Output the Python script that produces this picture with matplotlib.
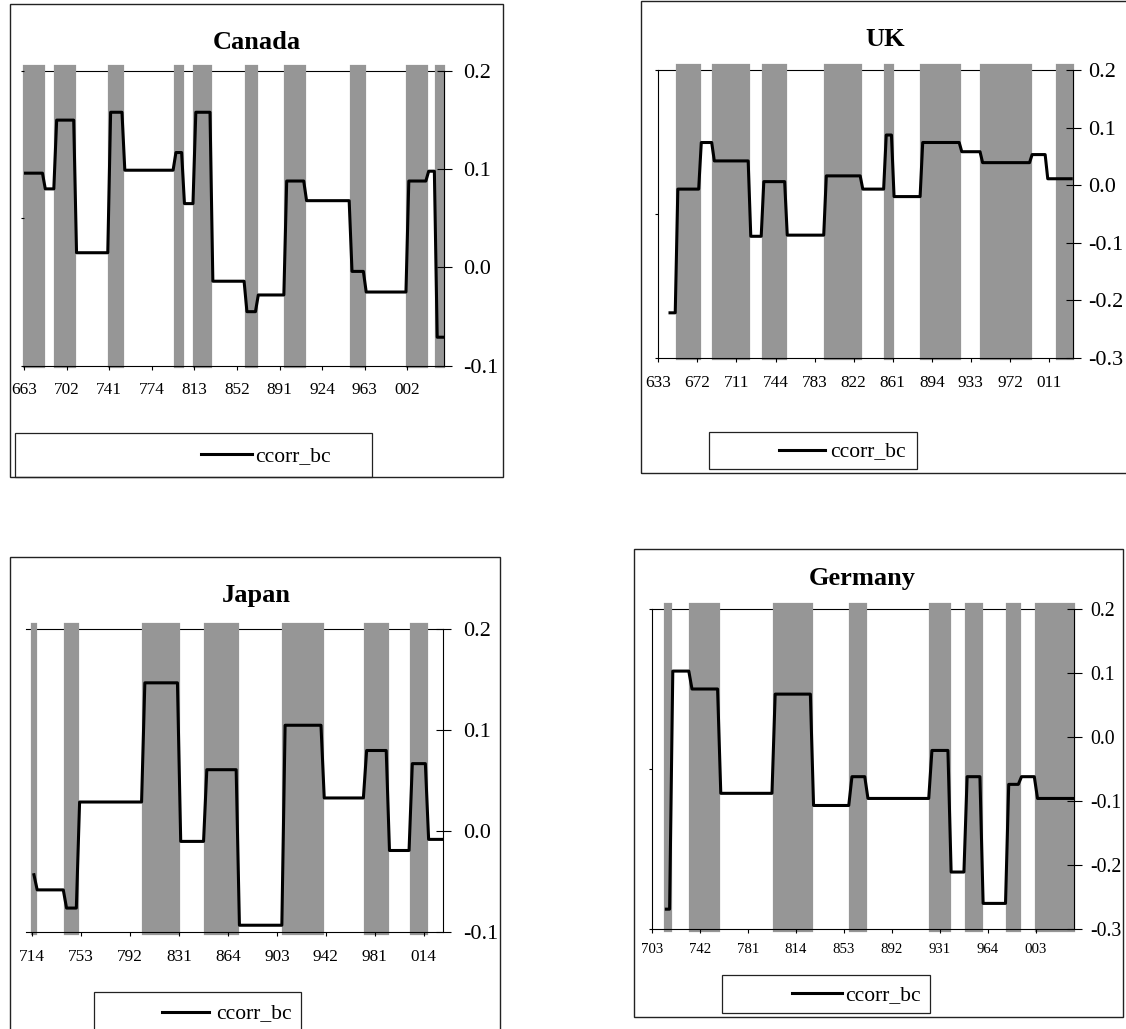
import numpy as np
import matplotlib
matplotlib.use("Agg")
import matplotlib.pyplot as plt
from matplotlib.patches import Rectangle
from matplotlib.lines import Line2D
from matplotlib.ticker import MultipleLocator, FormatStrFormatter

plt.rcParams["font.family"] = ["Liberation Serif", "DejaVu Serif"]

# ============================================================
# Data: quarterly step series (each level holds from its break
# to the next break) and shaded phases [start, end) in quarters
# ============================================================

# Canada, quarters from 1966Q3
canada_n = 148
canada_ticklabels = ["663", "702", "741", "774", "813", "852", "891", "924", "963", "002"]
canada_breaks = [0, 7, 11, 18, 30, 35, 53, 56, 60, 66, 78, 82, 92, 99, 115, 120, 135, 142, 145]
canada_levels = [0.096, 0.080, 0.150, 0.015, 0.158, 0.099, 0.117, 0.065, 0.158, -0.014,
                 -0.045, -0.028, 0.088, 0.068, -0.004, -0.025, 0.088, 0.098, -0.071]
canada_bar_start = [0, 11, 30, 53, 60, 78, 92, 115, 135, 145]
canada_bar_end = [7, 18, 35, 56, 66, 82, 99, 120, 142, 148]

# UK, quarters from 1963Q3
uk_n = 159
uk_ticklabels = ["633", "672", "711", "744", "783", "822", "861", "894", "933", "972", "011"]
uk_breaks = [4, 7, 16, 21, 35, 40, 49, 64, 78, 87, 90, 101, 116, 124, 143, 149]
uk_levels = [-0.222, -0.007, 0.074, 0.042, -0.089, 0.006, -0.087, 0.016, -0.007, 0.087,
             -0.020, 0.074, 0.058, 0.039, 0.053, 0.011]
uk_bar_start = [7, 21, 40, 64, 87, 101, 124, 153]
uk_bar_end = [16, 35, 49, 78, 90, 116, 143, 159]

# Japan, quarters from 1971Q4
japan_n = 126
japan_ticklabels = ["714", "753", "792", "831", "864", "903", "942", "981", "014"]
japan_breaks = [0, 1, 10, 14, 34, 45, 53, 63, 77, 89, 102, 109, 116, 121]
japan_levels = [-0.043, -0.058, -0.076, 0.029, 0.147, -0.010, 0.061, -0.093, 0.105, 0.033,
                0.080, -0.019, 0.067, -0.008]
japan_bar_start = [0, 10, 34, 53, 77, 102, 116]
japan_bar_end = [1, 14, 45, 63, 89, 109, 121]

# Germany, quarters from 1970Q3
germany_n = 132
germany_ticklabels = ["703", "742", "781", "814", "853", "892", "931", "964", "003"]
germany_breaks = [4, 6, 12, 21, 38, 50, 62, 67, 87, 93, 98, 103, 111, 115, 120]
germany_levels = [-0.269, 0.103, 0.075, -0.088, 0.067, -0.107, -0.062, -0.096, -0.021,
                  -0.211, -0.062, -0.260, -0.074, -0.062, -0.096]
germany_bar_start = [4, 12, 38, 62, 87, 98, 111, 120]
germany_bar_end = [6, 21, 50, 67, 93, 103, 115, 132]

series_label = "ccorr_bc"

# ============================================================
# Layout (pixels, origin top-left)
# ============================================================
W, H = 1126, 1029
GRAY = "#969696"


def fig_rect(x0, y0, x1, y1):
    return [x0 / W, 1 - y1 / H, (x1 - x0) / W, (y1 - y0) / H]


def step_series(breaks, levels, n):
    lengths = np.diff(breaks + [n])
    return np.repeat(levels, lengths)


def draw_panel(fig, title, n, ticklabels, breaks, levels, bar_start, bar_end, ylim, lay):
    ax = fig.add_axes(fig_rect(*lay["plot"]))
    ax.set_xlim(-lay["xpad"], n)
    ax.set_ylim(0, 1)

    # shaded phases on the primary (0..1) axis
    starts = np.array(bar_start)
    widths = np.array(bar_end) - starts
    ax.bar(starts, np.ones(len(starts)) * 1.022, width=widths, bottom=-0.006,
           align="edge", color=GRAY, edgecolor=GRAY, linewidth=1.6,
           clip_on=False, zorder=1)

    ax.spines["right"].set_visible(False)
    ax.spines["top"].set_zorder(0.5)
    ax.spines["left"].set_zorder(0.5)
    for s in ["top", "left", "bottom"]:
        ax.spines[s].set_linewidth(0.8)
    ax.set_yticks([0, 0.5, 1])
    ax.set_yticklabels([])
    if lay["left_axis"]:
        ax.tick_params(axis="y", direction="out", length=2.4, width=0.8)
    else:
        ax.spines["left"].set_visible(False)
        ax.tick_params(axis="y", length=0)

    ax.set_xticks(np.arange(len(ticklabels)) * 15)
    ax.set_xticklabels(ticklabels)
    ax.tick_params(axis="x", direction="out", length=2.9, width=0.8,
                   labelsize=lay["xfs"], pad=lay["xlpad"])

    # correlation line on the secondary axis
    ax2 = ax.twinx()
    ax2.set_ylim(*ylim)
    vals = step_series(breaks, levels, n)
    x = np.arange(breaks[0], n) + 0.5
    ax2.plot(x, vals, color="black", lw=2.2, label=series_label, zorder=3)
    for s in ["top", "left", "bottom"]:
        ax2.spines[s].set_visible(False)
    ax2.spines["right"].set_linewidth(0.8)
    ax2.yaxis.set_major_locator(MultipleLocator(0.1))
    ax2.yaxis.set_major_formatter(FormatStrFormatter("%.1f"))
    ax2.tick_params(axis="y", direction="inout", length=10.8, width=0.8,
                    labelsize=lay["yfs"], pad=lay["ylpad"])

    # chart frame and title
    bx0, by0, bx1, by1 = lay["box"]
    fig.add_artist(Rectangle((bx0 / W, 1 - by1 / H), (bx1 - bx0) / W, (by1 - by0) / H,
                             transform=fig.transFigure, fill=False, lw=1.0,
                             edgecolor="#222222"))
    tx, ty = lay["title_at"]
    fig.text(tx / W, 1 - ty / H, title, ha="center", va="baseline",
             fontsize=19, fontweight="bold")

    # legend box
    lx0, ly0, lx1, ly1 = lay["legend_box"]
    fig.add_artist(Rectangle((lx0 / W, 1 - ly1 / H), (lx1 - lx0) / W, (ly1 - ly0) / H,
                             transform=fig.transFigure, fill=False, lw=0.9,
                             edgecolor="#222222"))
    sx0, sx1, sy = lay["legend_line"]
    fig.add_artist(Line2D([sx0 / W, sx1 / W], [1 - sy / H, 1 - sy / H],
                          transform=fig.transFigure, color="black", lw=2.2))
    fig.text(lay["legend_text_x"] / W, 1 - (sy + 6.5) / H, series_label,
             ha="left", va="baseline", fontsize=15.5)


fig = plt.figure(figsize=(W / 100, H / 100), dpi=100)

draw_panel(fig, "Canada", canada_n, canada_ticklabels, canada_breaks, canada_levels,
           canada_bar_start, canada_bar_end, (-0.1, 0.2),
           dict(plot=(24, 71, 444.3, 365.7), xpad=0, left_axis=True,
                box=(10, 4, 503, 477.3), title_at=(256.5, 49),
                legend_box=(15, 433, 372, 477.3), legend_line=(201, 252, 454.3),
                legend_text_x=255, xfs=12.4, yfs=16, xlpad=8.7, ylpad=8.1))

draw_panel(fig, "UK", uk_n, uk_ticklabels, uk_breaks, uk_levels,
           uk_bar_start, uk_bar_end, (-0.3, 0.2),
           dict(plot=(658.3, 70, 1072.5, 357.7), xpad=0, left_axis=True,
                box=(640.7, 1, 1132, 472.7), title_at=(885, 45.5),
                legend_box=(709.3, 431.7, 916.7, 469.3), legend_line=(779, 825, 450),
                legend_text_x=830, xfs=12.4, yfs=16, xlpad=9.5, ylpad=5.5))

draw_panel(fig, "Japan", japan_n, japan_ticklabels, japan_breaks, japan_levels,
           japan_bar_start, japan_bar_end, (-0.1, 0.2),
           dict(plot=(26.1, 629.3, 443.3, 932.3), xpad=1.9, left_axis=False,
                box=(10, 557.3, 499.6, 1036), title_at=(256, 602),
                legend_box=(93.9, 992.3, 301, 1036), legend_line=(162, 209, 1011.7),
                legend_text_x=216, xfs=12.4, yfs=16, xlpad=9.2, ylpad=9.0))

draw_panel(fig, "Germany", germany_n, germany_ticklabels, germany_breaks, germany_levels,
           germany_bar_start, germany_bar_end, (-0.3, 0.2),
           dict(plot=(652, 609, 1074.3, 929), xpad=0, left_axis=True,
                box=(634, 549.3, 1123.3, 1017.3), title_at=(862, 585),
                legend_box=(721.7, 975, 930, 1012.7), legend_line=(792, 842, 993.3),
                legend_text_x=845, xfs=10.7, yfs=14.3, xlpad=7.3, ylpad=5.9))

fig.savefig("out.png", dpi=100)
